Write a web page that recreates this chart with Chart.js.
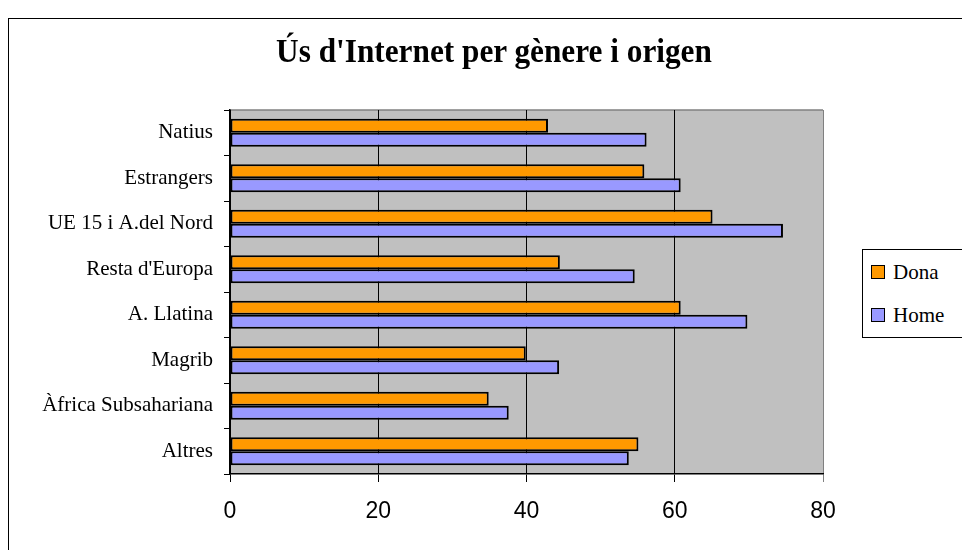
<!DOCTYPE html>
<html>
    <head>
        <title>Ús d'Internet per gènere i origen</title>
        <meta charset="utf-8">
        <style>
            body { margin: 0; background: #fff; }
            #wrap { position: relative; width: 962px; height: 550px; overflow: hidden; }
            #frame { position: absolute; left: 8px; top: 18px; width: 1000px; height: 600px; border: 1.5px solid #000; box-sizing: border-box; }
            #title { position: absolute; left: 94px; top: 34px; width: 800px; text-align: center; line-height: 34px;
                     font-family: "Liberation Serif", serif; font-weight: bold; font-size: 34px; color: #000;
                     transform: scaleX(0.92); }
            #legend { position: absolute; left: 862px; top: 249px; width: 120px; height: 87px; border: 1px solid #000; background: #fff;
                      font-family: "Liberation Serif", serif; font-size: 21px; }
            .item { position: absolute; left: 8px; }
            .sw { display: inline-block; width: 12px; height: 12px; border: 1.5px solid #000; vertical-align: middle; margin-right: 8px; position: relative; top: -2px; }
        </style>
    </head>
    <body>
        <div id="wrap">
            <div id="frame"></div>
            <canvas id="myChart" width="962" height="550" style="position:absolute;left:0;top:0"></canvas>
            <div id="title">Ús d'Internet per gènere i origen</div>
            <div id="legend">
                <div class="item" style="top:10px"><span class="sw" style="background:#FF9900"></span>Dona</div>
                <div class="item" style="top:53px"><span class="sw" style="background:#9999FF"></span>Home</div>
            </div>
        </div>

        <script src="https://cdn.jsdelivr.net/npm/chart.js@4/dist/chart.umd.min.js"></script>
        <script>
            let categories = ['Natius', 'Estrangers', 'UE 15 i A.del Nord', "Resta d'Europa", 'A. Llatina', 'Magrib', 'Àfrica Subsahariana', 'Altres'];
            let dona = [42.9, 55.9, 65.1, 44.5, 60.8, 39.9, 34.9, 55.1];
            let home = [56.2, 60.8, 74.6, 54.6, 69.8, 44.4, 37.6, 53.8];
            let xTicks = [0, 20, 40, 60, 80];

            // fondo gris del area del grafico
            let plotBg = {
                id: 'plotBg',
                beforeDraw: (chart) => {
                    let a = chart.chartArea;
                    let ctx = chart.ctx;
                    ctx.save();
                    ctx.fillStyle = '#C0C0C0';
                    ctx.fillRect(a.left, a.top, a.right - a.left, a.bottom - a.top);
                    ctx.strokeStyle = '#808080';
                    ctx.lineWidth = 1.5;
                    ctx.beginPath();
                    ctx.moveTo(a.left, a.top);
                    ctx.lineTo(a.right, a.top);
                    ctx.stroke();
                    ctx.restore();
                }
            };

            let ctx = document.getElementById('myChart').getContext('2d');
            let chart = new Chart(ctx, {
                type: 'bar',
                data: {
                    labels: categories,
                    datasets: [{
                        label: 'Dona',
                        data: dona,
                        backgroundColor: '#FF9900',
                        borderColor: '#000',
                        borderWidth: 2,
                        borderSkipped: false
                    }, {
                        label: 'Home',
                        data: home,
                        backgroundColor: '#9999FF',
                        borderColor: '#000',
                        borderWidth: 2,
                        borderSkipped: false
                    }]
                },
                options: {
                    indexAxis: 'y',
                    responsive: false,
                    animation: false,
                    layout: { padding: { left: 0, right: 139, top: 110, bottom: 26 } },
                    datasets: { bar: { categoryPercentage: 0.61, barPercentage: 1.0 } },
                    plugins: {
                        legend: { display: false },
                        tooltip: { enabled: false },
                        title: { display: false }
                    },
                    scales: {
                        x: {
                            min: 0,
                            max: 80,
                            afterBuildTicks: (s) => { s.ticks = xTicks.map(v => ({ value: v })); },
                            afterFit: (s) => { s.height = 50; },
                            border: { color: '#000', width: 1.5 },
                            grid: {
                                color: (c) => c.tick && c.tick.value === 80 ? '#808080' : '#000',
                                lineWidth: 1,
                                tickLength: 8
                            },
                            ticks: {
                                color: '#000',
                                padding: 16,
                                font: { family: 'Liberation Sans', size: 23 }
                            }
                        },
                        y: {
                            afterFit: (s) => { s.width = 230; },
                            border: { color: '#000', width: 1.5 },
                            grid: {
                                offset: true,
                                drawOnChartArea: false,
                                color: '#000',
                                tickLength: 6
                            },
                            ticks: {
                                color: '#000',
                                padding: 11,
                                font: { family: 'Liberation Serif', size: 21 }
                            }
                        }
                    }
                },
                plugins: [plotBg]
            });
        </script>
    </body>
</html>
